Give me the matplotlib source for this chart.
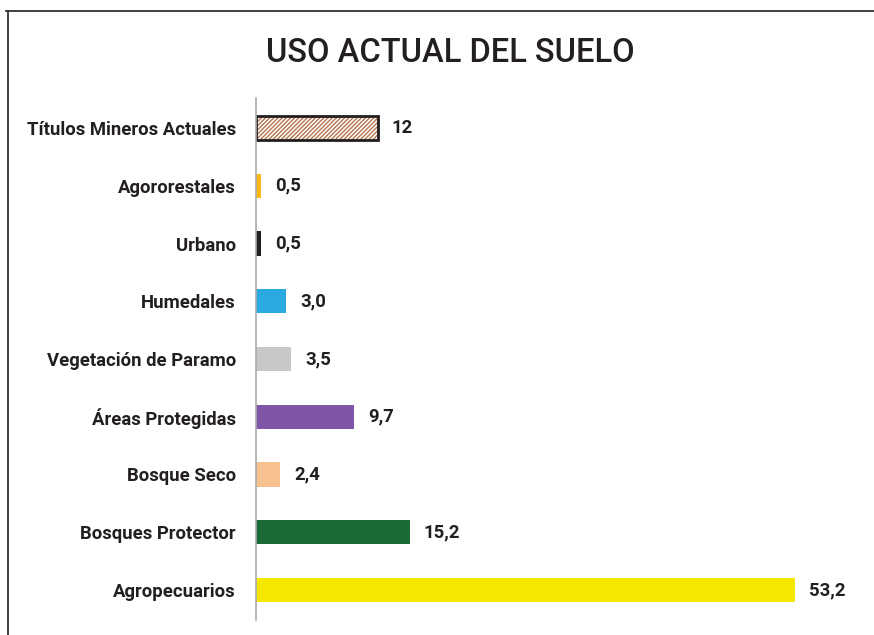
import matplotlib
matplotlib.use("Agg")
import matplotlib.pyplot as plt
from matplotlib.lines import Line2D

categories = [
    "Títulos Mineros Actuales",
    "Agororestales",
    "Urbano",
    "Humedales",
    "Vegetación de Paramo",
    "Áreas Protegidas",
    "Bosque Seco",
    "Bosques Protector",
    "Agropecuarios",
]
values = [12, 0.5, 0.5, 3.0, 3.5, 9.7, 2.4, 15.2, 53.2]
value_labels = ["12", "0,5", "0,5", "3,0", "3,5", "9,7", "2,4", "15,2", "53,2"]
colors = ["white", "#FDB913", "#231F20", "#29ABE2", "#C8C8C8",
          "#7F56A6", "#F7C08F", "#1A6B35", "#F5E800"]

plt.rcParams["font.family"] = ["Roboto", "DejaVu Sans"]
plt.rcParams["hatch.color"] = "#B5744F"
plt.rcParams["hatch.linewidth"] = 1.0

fig = plt.figure(figsize=(8.74, 6.35), dpi=100)
ax = fig.add_axes([256 / 874, 1 - 620 / 635, (860 - 256) / 874, (620 - 98) / 635])

ypos = list(range(len(categories)))
bars = ax.barh(ypos, values, height=0.42, color=colors, edgecolor="none")
# hatched outline bar for mining titles
bars[0].set_hatch("////////")
bars[0].set_edgecolor("#B5744F")
ax.barh(ypos[0], values[0], height=0.42, color="none", edgecolor="#231F20", linewidth=2.0)

for y, v, lab in zip(ypos, values, value_labels):
    ax.text(v + 1.35, y, lab, va="center", ha="left", fontsize=13.3,
            fontweight="bold", color="#231F20")

ax.set_xlim(0, 604 / 10.13)
ax.set_ylim(8.52, -0.52)
ax.set_yticks(ypos)
ax.set_yticklabels(categories, fontsize=13.3, fontweight="bold", color="#231F20")
ax.tick_params(axis="y", length=0, pad=14.4)
ax.set_xticks([])
for s in ["top", "right", "bottom"]:
    ax.spines[s].set_visible(False)
ax.spines["left"].set_color("#AAAAAA")
ax.spines["left"].set_linewidth(1.2)

fig.text(450 / 874, 1 - 52.5 / 635, "USO ACTUAL DEL SUELO", ha="center", va="center",
         fontsize=23.5, fontweight="medium", color="#231F20")

# frame lines along top and left edge
fig.add_artist(Line2D([6 / 874, 1], [1 - 10.5 / 635] * 2, transform=fig.transFigure,
                      color="#333333", linewidth=1.3))
fig.add_artist(Line2D([7.5 / 874] * 2, [1 - 10.5 / 635, 0], transform=fig.transFigure,
                      color="#333333", linewidth=1.3))

fig.savefig("out.png", dpi=100)
